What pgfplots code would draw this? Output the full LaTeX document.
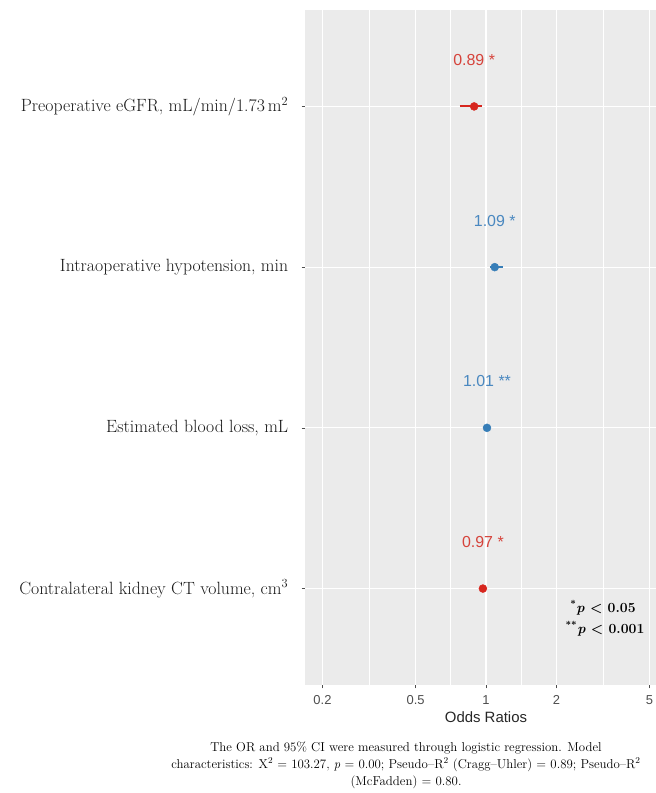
\documentclass[border=0pt]{standalone}
\usepackage{fontspec}
\usepackage{pgfplots}
\pgfplotsset{compat=1.18}
\newfontfamily\sansf{Liberation Sans}
\definecolor{panel}{HTML}{EBEBEB}
\definecolor{ored}{HTML}{D7261E}
\definecolor{oblue}{HTML}{377EB8}
\definecolor{tred}{HTML}{D6433B}
\definecolor{tblue}{HTML}{4A88C0}
\definecolor{tickgray}{HTML}{4D4D4D}
\begin{document}
\begin{tikzpicture}
\useasboundingbox (0bp,0bp) rectangle (656bp,793bp);
\clip (0bp,0bp) rectangle (656bp,793bp);
\begin{axis}[
  at={(305bp,108bp)}, anchor=south west,
  scale only axis, width=362bp, height=675bp,
  xmode=log, log basis x=10,
  xmin=0.1684, xmax=5.94, ymin=0.4, ymax=4.6,
  axis background/.style={fill=panel},
  axis line style={draw=none},
  tick pos=left,
  xtick={0.2,0.5,1,2,5}, xticklabels={0.2,0.5,1,2,5},
  minor xtick={0.3162,0.7071,1.4142,3.1623},
  ytick={1,2,3,4},
  yticklabels={Contralateral kidney CT volume{,} cm\textsuperscript{3},
               Estimated blood loss{,} mL,
               Intraoperative hypotension{,} min,
               Preoperative eGFR{,} mL/min/1.73\,m\textsuperscript{2}},
  xmajorgrids, xminorgrids, ymajorgrids,
  major grid style={white, line width=1bp},
  minor grid style={white, line width=0.7bp},
  tick align=outside, major tick length=3.3bp, minor tick length=0pt,
  tick style={tickgray, line width=0.7bp},
  xticklabel style={font=\sansf\fontsize{13}{15}\selectfont, text=tickgray, yshift=-4bp},
  yticklabel style={font=\fontsize{17.8}{21}\selectfont, text=black!90, xshift=-10bp},
  xlabel={Odds Ratios},
  xlabel style={font=\sansf\fontsize{15}{18}\selectfont, text=black!85, at={(rel axis cs:0.5,0)}, anchor=center, yshift=-32bp},
  clip=false,
]
\draw[white, line width=2.2bp] (axis cs:1,0.4) -- (axis cs:1,4.6);
% confidence intervals
\addplot[ored, line width=2bp] coordinates {(0.774,4) (0.958,4)};
\addplot[oblue, line width=2bp] coordinates {(1.043,3) (1.178,3)};
\addplot[oblue, line width=2bp] coordinates {(1.00,2) (1.02,2)};
\addplot[ored, line width=2bp] coordinates {(0.95,1) (0.99,1)};
% point estimates
\addplot[only marks, mark=*, mark size=4bp, mark options={draw=ored, fill=ored}] coordinates {(0.89,4) (0.97,1)};
\addplot[only marks, mark=*, mark size=4bp, mark options={draw=oblue, fill=oblue}] coordinates {(1.09,3) (1.01,2)};
% value labels
\node[text=tred, font=\sansf\fontsize{16}{19}\selectfont] at (axis cs:0.89,4.29) {0.89 *};
\node[text=tblue, font=\sansf\fontsize{16}{19}\selectfont] at (axis cs:1.09,3.29) {1.09 *};
\node[text=tblue, font=\sansf\fontsize{16}{19}\selectfont] at (axis cs:1.01,2.29) {1.01 **};
\node[text=tred, font=\sansf\fontsize{16}{19}\selectfont] at (axis cs:0.97,1.29) {0.97 *};
\end{axis}
\node[font=\bfseries\fontsize{14}{18}\selectfont] at (603bp,185bp) {\textsuperscript{*}\textit{p} < 0.05};
\node[font=\bfseries\fontsize{14}{18}\selectfont] at (605bp,164bp) {\textsuperscript{**}\textit{p} < 0.001};
\node[align=center, font=\fontsize{12.9}{17}\selectfont] at (406bp,28bp) {The OR and 95\% CI were measured through logistic regression. Model\\
characteristics: X\textsuperscript{2} = 103.27, \textit{p} = 0.00; Pseudo–R\textsuperscript{2} (Cragg–Uhler) = 0.89; Pseudo–R\textsuperscript{2}\\
(McFadden) = 0.80.};
\end{tikzpicture}
\end{document}
